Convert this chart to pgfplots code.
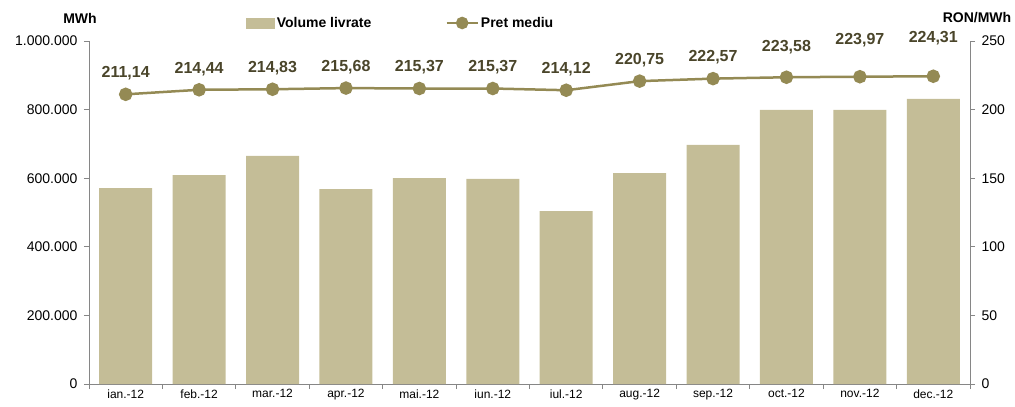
\documentclass[border=0pt]{standalone}
\usepackage{pgfplots}
\usepackage{pgfplotstable}
\pgfplotsset{compat=1.18}
\usepackage{fontspec}
\setmainfont{Liberation Sans}
\definecolor{barc}{HTML}{C4BD97}
\definecolor{linec}{HTML}{948A54}
\definecolor{labc}{HTML}{4A452A}
\definecolor{axc}{HTML}{868686}

\pgfplotsset{
  barlegend/.style={legend image code/.code={\fill[barc] (0pt,-5pt) rectangle (28pt,5pt);}},
  linelegend/.style={legend image code/.code={\draw[##1, line width=2.5pt] plot[mark repeat=2, mark phase=2, mark size=5pt] coordinates {(0pt,0pt) (15.5pt,0pt) (31pt,0pt)};}},
}

\pgfplotstableread{
x vol
0 571000
1 609000
2 665000
3 568000
4 600000
5 598000
6 504000
7 615000
8 697000
9 799000
10 799000
11 831000
}\voldata

\pgfplotstableread{
x price dy lab
0 211.14 21 211,14
1 214.44 21 214,44
2 214.83 21 214,83
3 215.68 21 215,68
4 215.37 21 215,37
5 215.37 21 215,37
6 214.12 21 214,12
7 220.75 21 220,75
8 222.57 21 222,57
9 223.58 30 223,58
10 223.97 37 223,97
11 224.31 38 224,31
}\pricedata

\begin{document}
\begin{tikzpicture}
\useasboundingbox (-89pt,-23pt) rectangle (926pt,384pt);
\begin{axis}[
  scale only axis, width=881pt, height=343pt,
  xmin=-0.5, xmax=11.5, ymin=0, ymax=1000000,
  axis y line*=left, axis x line*=bottom,
  axis line style={draw=axc, line width=0.9pt, -},
  tick align=outside, major tick length=5pt,
  tick style={draw=axc, line width=0.9pt},
  xtick={-0.5,0.5,1.5,2.5,3.5,4.5,5.5,6.5,7.5,8.5,9.5,10.5,11.5},
  xticklabels={},
  extra x ticks={0,1,2,3,4,5,6,7,8,9,10,11},
  extra x tick labels={ian.-12,feb.-12,mar.-12,apr.-12,mai.-12,iun.-12,iul.-12,aug.-12,sep.-12,oct.-12,nov.-12,dec.-12},
  extra x tick style={major tick length=0pt, xticklabel style={font=\fontsize{12}{14}\selectfont, yshift=-2pt}},
  ytick={0,200000,400000,600000,800000,1000000},
  yticklabels={0,200.000,400.000,600.000,800.000,1.000.000},
  scaled y ticks=false,
  yticklabel style={font=\fontsize{14}{16}\selectfont, xshift=-3pt},
  ylabel={MWh},
  ylabel style={at={(rel axis cs:0,1)}, rotate=-90, anchor=center, xshift=-9pt, yshift=23pt, font=\bfseries\fontsize{14}{16}\selectfont},
]
\addplot[ybar, bar width=53pt, fill=barc, draw=none] table[x=x,y=vol]{\voldata};
\end{axis}
\begin{axis}[
  scale only axis, width=881pt, height=343pt,
  xmin=-0.5, xmax=11.5, ymin=0, ymax=250,
  axis y line*=right, axis x line=none,
  axis line style={draw=axc, line width=0.9pt, -},
  tick align=outside, major tick length=5pt,
  tick style={draw=axc, line width=0.9pt},
  ytick={0,50,100,150,200,250},
  /pgf/number format/assume math mode=true,
  yticklabel style={font=\fontsize{14}{16}\selectfont, xshift=3pt},
  ylabel={RON/MWh},
  ylabel style={at={(rel axis cs:1,1)}, rotate=-90, anchor=center, xshift=7pt, yshift=23pt, font=\bfseries\fontsize{14}{16}\selectfont},
  legend columns=2,
  legend style={at={(0.175,1.0525)}, anchor=west, draw=none, fill=none,
    font=\bfseries\fontsize{14}{16}\selectfont,
    /tikz/every even column/.append style={column sep=72pt}},
]
\addlegendimage{barlegend}
\addplot[linec, line width=2.5pt, mark=*, mark size=5.5pt,
  mark options={fill=linec, draw=none, solid},
  linelegend,
  nodes near coords, point meta=explicit symbolic,
  visualization depends on={\thisrow{dy} \as \dy},
  every node near coord/.append style={font=\bfseries\fontsize{16}{18}\selectfont, text=labc, anchor=center, yshift=\dy pt},
] table[x=x, y=price, meta=lab]{\pricedata};
\legend{Volume livrate, Pret mediu}
\end{axis}
\end{tikzpicture}
\end{document}
